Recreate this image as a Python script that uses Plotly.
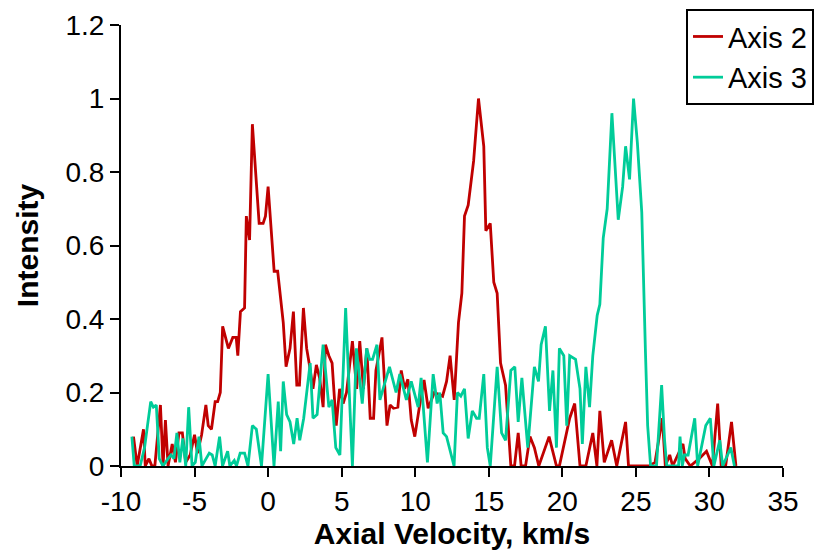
import plotly.graph_objects as go

# Axis 2 (red) vertices: velocity (km/s) and intensity
axis2_x = [-9.15, -8.9, -8.47, -8.35, -8.1, -7.9, -7.7, -7.32, -7.14, -6.98, -6.8, -6.52, -6.3,
           -6.06, -5.83, -5.6, -5.3, -5.0, -4.8, -4.52, -4.23, -4.07, -3.85, -3.6, -3.43, -3.25,
           -3.09, -2.7, -2.4, -2.17, -2.06, -1.88, -1.6, -1.48, -1.26, -1.07, -0.61, -0.34, -0.18,
           0.0, 0.41, 0.65, 1.03, 1.22, 1.49, 1.72, 1.95, 2.13, 2.4, 2.62, 2.81, 3.05, 3.28, 3.5,
           3.74, 3.9, 4.13, 4.35, 4.63, 4.86, 5.1, 5.33, 5.73, 5.91, 6.02, 6.23, 6.48, 6.71, 6.94,
           7.17, 7.33, 7.74, 8.08, 8.29, 8.52, 8.82, 9.05, 9.28, 9.5, 9.73, 9.97, 10.27, 10.6,
           10.88, 11.3, 11.86, 12.13, 12.37, 12.65, 12.94, 13.17, 13.35, 13.6, 13.97, 14.3, 14.66,
           14.8, 15.1, 15.34, 15.57, 15.8, 16.14, 16.5, 16.75, 17.0, 17.2, 17.5, 17.8, 18.1, 18.4,
           18.75, 19.1, 19.35, 19.6, 19.8, 20.1, 20.5, 20.84, 21.2, 21.6, 22.07, 22.35, 22.55,
           22.85, 23.1, 23.35, 23.7, 24.3, 24.5, 24.9, 25.4, 25.9, 26.3, 26.8, 27.0, 27.3, 27.5,
           28.2, 28.35, 28.7, 29.3, 29.8, 30.2, 30.56, 30.8, 31.1, 31.5, 31.8]
axis2_y = [0.08, 0.0, 0.10, 0.0, 0.02, 0.0, 0.0, 0.166, 0.0, 0.125, 0.0, 0.06, 0.01,
           0.09, 0.09, 0.01, 0.03, 0.085, 0.035, 0.085, 0.166, 0.11, 0.10, 0.175, 0.175, 0.20,
           0.38, 0.32, 0.35, 0.35, 0.30, 0.42, 0.43, 0.68, 0.615, 0.93, 0.66, 0.66, 0.68,
           0.76, 0.53, 0.53, 0.39, 0.27, 0.32, 0.42, 0.22, 0.22, 0.43, 0.32, 0.275, 0.21, 0.275, 0.24,
           0.16, 0.33, 0.30, 0.28, 0.11, 0.21, 0.17, 0.20, 0.34, 0.26, 0.21, 0.34, 0.21, 0.32, 0.13,
           0.13, 0.26, 0.35, 0.11, 0.166, 0.157, 0.16, 0.26, 0.21, 0.236, 0.125, 0.08, 0.157, 0.234,
           0.157, 0.20, 0.19, 0.23, 0.30, 0.18, 0.39, 0.47, 0.68, 0.71, 0.83, 1.0, 0.87,
           0.64, 0.66, 0.50, 0.47, 0.28, 0.22, 0.0, 0.0, 0.09, 0.0, 0.0, 0.08, 0.05, 0.0,
           0.04, 0.08, 0.04, 0.0, 0.0, 0.06, 0.13, 0.17, 0.0, 0.0, 0.09, 0.0, 0.15,
           0.01, 0.04, 0.07, 0.0, 0.12, 0.0, 0.0, 0.0, 0.0, 0.01, 0.13, 0.0, 0.03, 0.0,
           0.06, 0.02, 0.0, 0.02, 0.04, 0.0, 0.17, 0.0, 0.0, 0.12, 0.0]

# Axis 3 (teal) vertices
axis3_x = [-9.26, -9.1, -8.7, -8.4, -8.2, -7.98, -7.8, -7.6, -7.4, -7.15, -6.8, -6.6, -6.4, -6.2,
           -6.0, -5.8, -5.6, -5.4, -5.17, -4.95, -4.7, -4.5, -4.0, -3.8, -3.6, -3.3, -3.1, -2.75,
           -2.6, -2.3, -2.15, -1.9, -1.6, -1.37, -1.07, -0.8, -0.45, 0.0, 0.4, 0.69, 0.85, 1.03,
           1.26, 1.49, 1.74, 1.97, 2.15, 2.42, 2.86, 3.05, 3.33, 3.74, 4.13, 4.35, 4.6, 4.88, 5.27,
           5.73, 6.0, 6.4, 6.7, 6.9, 7.1, 7.4, 7.6, 7.95, 8.25, 8.7, 8.95, 9.4, 9.73, 10.2, 10.4,
           10.83, 11.22, 11.49, 11.67, 11.9, 12.13, 12.64, 12.87, 13.1, 13.35, 13.6, 13.88, 14.17,
           14.35, 14.66, 14.9, 15.1, 15.57, 15.87, 16.14, 16.5, 16.77, 17.0, 17.25, 17.65, 18.1,
           18.38, 18.56, 18.85, 19.13, 19.36, 19.6, 19.8, 20.1, 20.3, 20.5, 20.9, 21.2, 21.36,
           21.6, 21.85, 22.07, 22.37, 22.55, 22.78, 23.05, 23.37, 23.8, 24.1, 24.3, 24.57, 24.84,
           25.1, 25.4, 25.65, 25.8, 26.0, 26.4, 26.75, 26.95, 27.1, 27.9, 28.0, 28.15, 28.3, 28.55,
           29.0, 29.2, 29.75, 30.06, 30.3, 30.7, 30.9, 31.45, 31.7]
axis3_y = [0.08, 0.0, 0.0, 0.05, 0.11, 0.175, 0.16, 0.166, 0.02, 0.0, 0.02, 0.03, 0.02, 0.09,
           0.01, 0.075, 0.0, 0.16, 0.0, 0.01, 0.08, 0.0, 0.035, 0.03, 0.0, 0.08, 0.0, 0.04,
           0.0, 0.015, 0.0, 0.035, 0.035, 0.0, 0.11, 0.10, 0.0, 0.25, 0.0, 0.175, 0.04, 0.23,
           0.14, 0.12, 0.06, 0.13, 0.07, 0.13, 0.28, 0.13, 0.14, 0.33, 0.16, 0.18, 0.05, 0.03, 0.43,
           0.0, 0.32, 0.17, 0.32, 0.29, 0.29, 0.33, 0.18, 0.23, 0.27, 0.20, 0.25, 0.18, 0.23, 0.16, 0.24,
           0.01, 0.25, 0.17, 0.20, 0.09, 0.08, 0.0, 0.20, 0.19, 0.21, 0.075, 0.15, 0.13,
           0.13, 0.25, 0.05, 0.0, 0.27, 0.09, 0.07, 0.26, 0.27, 0.12, 0.24, 0.05, 0.27,
           0.23, 0.33, 0.38, 0.15, 0.26, 0.05, 0.32, 0.30, 0.11, 0.30, 0.29, 0.21, 0.06,
           0.27, 0.16, 0.30, 0.41, 0.44, 0.62, 0.70, 0.96, 0.67, 0.76, 0.87, 0.78, 1.0,
           0.88, 0.69, 0.31, 0.11, 0.0, 0.0, 0.22, 0.07, 0.0, 0.0, 0.08, 0.0, 0.03, 0.03,
           0.13, 0.0, 0.11, 0.13, 0.0, 0.07, 0.0, 0.05, 0.0]

x_ticks = [-10, -5, 0, 5, 10, 15, 20, 25, 30, 35]
y_ticks = [0, 0.2, 0.4, 0.6, 0.8, 1.0, 1.2]
y_labels = ["0", "0.2", "0.4", "0.6", "0.8", "1", "1.2"]

FONT = "Liberation Sans, Arial, sans-serif"

fig = go.Figure()
fig.add_trace(go.Scatter(x=axis2_x, y=axis2_y, mode="lines", name="Axis 2",
                         line=dict(color="#C00000", width=2.8)))
fig.add_trace(go.Scatter(x=axis3_x, y=axis3_y, mode="lines", name="Axis 3",
                         line=dict(color="#00CC99", width=2.8)))

fig.update_layout(
    width=820, height=544,
    margin=dict(l=113, r=45, t=17, b=86, autoexpand=False),
    paper_bgcolor="white", plot_bgcolor="white",
    font=dict(family=FONT, size=20, color="black"),
    showlegend=True,
    legend=dict(x=0.8535, y=1.036, xanchor="left", yanchor="top",
                bordercolor="black", borderwidth=2, bgcolor="white",
                font=dict(family=FONT, size=29, color="black"),
                tracegroupgap=0),
    xaxis=dict(range=[-10, 35], tickmode="array", tickvals=x_ticks,
               ticktext=[str(v) for v in x_ticks],
               showgrid=False, zeroline=False, showline=True, linecolor="black", linewidth=2,
               ticks="outside", ticklen=9, tickwidth=2, tickcolor="black",
               tickfont=dict(size=28),
               title=dict(text="<b>Axial Velocity, km/s</b>", font=dict(size=30), standoff=2)),
    yaxis=dict(range=[0, 1.2], tickmode="array", tickvals=y_ticks, ticktext=y_labels,
               showgrid=False, zeroline=False, showline=True, linecolor="black", linewidth=2,
               ticks="outside", ticklen=9, tickwidth=2, tickcolor="black",
               tickfont=dict(size=28),
               title=dict(text="<b>Intensity</b>", font=dict(size=30), standoff=18)),
)

fig.write_html("out.html")
